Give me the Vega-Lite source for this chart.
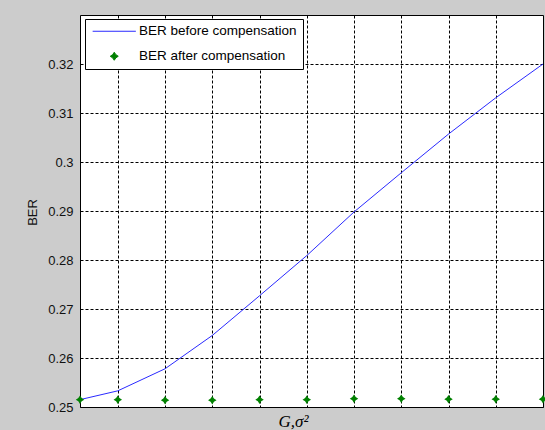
{
  "$schema": "https://vega.github.io/schema/vega-lite/v6.json",
  "width": 463,
  "height": 392,
  "autosize": {"type": "none"},
  "padding": {"left": 80, "top": 15, "right": 2, "bottom": 23},
  "background": "#cccccc",
  "data": {
    "values": [
      {"x": 0.2, "ber": 0.2515, "series": "BER before compensation"},
      {"x": 1, "ber": 0.2533, "series": "BER before compensation"},
      {"x": 2, "ber": 0.2578, "series": "BER before compensation"},
      {"x": 3, "ber": 0.2646, "series": "BER before compensation"},
      {"x": 4, "ber": 0.2727, "series": "BER before compensation"},
      {"x": 5, "ber": 0.2809, "series": "BER before compensation"},
      {"x": 6, "ber": 0.2898, "series": "BER before compensation"},
      {"x": 7, "ber": 0.2978, "series": "BER before compensation"},
      {"x": 8, "ber": 0.3057, "series": "BER before compensation"},
      {"x": 9, "ber": 0.3131, "series": "BER before compensation"},
      {"x": 10, "ber": 0.32, "series": "BER before compensation"},
      {"x": 0.2, "ber": 0.2515, "series": "BER after compensation"},
      {"x": 1, "ber": 0.2515, "series": "BER after compensation"},
      {"x": 2, "ber": 0.2514, "series": "BER after compensation"},
      {"x": 3, "ber": 0.2514, "series": "BER after compensation"},
      {"x": 4, "ber": 0.2515, "series": "BER after compensation"},
      {"x": 5, "ber": 0.2515, "series": "BER after compensation"},
      {"x": 6, "ber": 0.2517, "series": "BER after compensation"},
      {"x": 7, "ber": 0.2517, "series": "BER after compensation"},
      {"x": 8, "ber": 0.2516, "series": "BER after compensation"},
      {"x": 9, "ber": 0.2516, "series": "BER after compensation"},
      {"x": 10, "ber": 0.2516, "series": "BER after compensation"}
    ]
  },
  "encoding": {
    "x": {
      "field": "x",
      "type": "quantitative",
      "scale": {"domain": [0.2, 10], "nice": false, "zero": false},
      "axis": {
        "values": [1, 2, 3, 4, 5, 6, 7, 8, 9],
        "labels": false,
        "ticks": false,
        "domain": false,
        "grid": true,
        "gridColor": "#000000",
        "gridDash": [3, 2],
        "gridOpacity": 1,
        "title": "G,σ²",
        "titleFont": "Liberation Serif",
        "titleFontStyle": "italic",
        "titleFontWeight": "normal",
        "titleFontSize": 17,
        "titleColor": "#000000",
        "titleX": 213,
        "titleY": 19,
        "titleAlign": "center",
        "titleBaseline": "alphabetic"
      }
    },
    "y": {
      "field": "ber",
      "type": "quantitative",
      "scale": {"domain": [0.25, 0.33], "nice": false, "zero": false},
      "axis": {
        "values": [0.25, 0.26, 0.27, 0.28, 0.29, 0.3, 0.31, 0.32],
        "format": ".2~f",
        "ticks": false,
        "domain": false,
        "labelPadding": 7,
        "labelFont": "Liberation Sans",
        "labelFontSize": 13,
        "labelColor": "#111111",
        "grid": true,
        "gridColor": "#000000",
        "gridDash": [3, 2],
        "gridOpacity": 1,
        "title": "BER",
        "titleFont": "Liberation Sans",
        "titleFontWeight": "normal",
        "titleFontSize": 13,
        "titleColor": "#111111",
        "titleX": -48,
        "titleY": 197,
        "titleAngle": 270,
        "titleAlign": "center",
        "titleBaseline": "middle"
      }
    }
  },
  "layer": [
    {
      "transform": [{"filter": "datum.series === 'BER before compensation'"}],
      "mark": {"type": "line", "strokeWidth": 1, "clip": true},
      "encoding": {
        "color": {
          "field": "series",
          "type": "nominal",
          "scale": {
            "domain": ["BER before compensation", "BER after compensation"],
            "range": ["#2a2aff", "#008000"]
          },
          "legend": {
            "orient": "none",
            "legendX": 5,
            "legendY": 4,
            "title": null,
            "fillColor": "#ffffff",
            "strokeColor": "#000000",
            "padding": 5.5,
            "rowPadding": 10,
            "symbolOffset": 17,
            "labelOffset": 18,
            "symbolSize": 64,
            "symbolStrokeWidth": 1,
            "labelFont": "Liberation Sans",
            "labelFontSize": 13.5,
            "labelColor": "#000000",
            "labelExpr": "datum.label + '        '",
            "encode": {
              "symbols": {
                "update": {"stroke": {"scale": "color", "field": "value"}, "strokeWidth": {"value": 1}}
              }
            }
          }
        }
      }
    },
    {
      "transform": [{"filter": "datum.series === 'BER after compensation'"}],
      "mark": {"type": "point", "filled": true, "size": 72, "opacity": 1, "clip": false},
      "encoding": {
        "color": {
          "field": "series",
          "type": "nominal",
          "scale": {
            "domain": ["BER before compensation", "BER after compensation"],
            "range": ["#2a2aff", "#008000"]
          },
          "legend": {
            "orient": "none",
            "legendX": 5,
            "legendY": 4,
            "title": null,
            "fillColor": "#ffffff",
            "strokeColor": "#000000",
            "padding": 5.5,
            "rowPadding": 10,
            "symbolOffset": 17,
            "labelOffset": 18,
            "symbolSize": 64,
            "symbolStrokeWidth": 1,
            "labelFont": "Liberation Sans",
            "labelFontSize": 13.5,
            "labelColor": "#000000",
            "labelExpr": "datum.label + '        '",
            "encode": {
              "symbols": {
                "update": {"stroke": {"scale": "color", "field": "value"}, "strokeWidth": {"value": 1}}
              }
            }
          }
        },
        "shape": {
          "field": "series",
          "type": "nominal",
          "scale": {
            "domain": ["BER before compensation", "BER after compensation"],
            "range": ["M-5.4,0H5.4", "M0,-1L0.4,-0.4L1,0L0.4,0.4L0,1L-0.4,0.4L-1,0L-0.4,-0.4Z"]
          },
          "legend": {
            "orient": "none",
            "legendX": 5,
            "legendY": 4,
            "title": null,
            "fillColor": "#ffffff",
            "strokeColor": "#000000",
            "padding": 5.5,
            "rowPadding": 10,
            "symbolOffset": 17,
            "labelOffset": 18,
            "symbolSize": 64,
            "symbolStrokeWidth": 1,
            "labelFont": "Liberation Sans",
            "labelFontSize": 13.5,
            "labelColor": "#000000",
            "labelExpr": "datum.label + '        '",
            "encode": {
              "symbols": {
                "update": {"stroke": {"scale": "color", "field": "value"}, "strokeWidth": {"value": 1}}
              }
            }
          }
        }
      }
    }
  ],
  "config": {
    "view": {"fill": "#ffffff", "stroke": "#000000", "strokeWidth": 1},
    "legend": {"cornerRadius": 0, "strokeWidth": 1}
  }
}
